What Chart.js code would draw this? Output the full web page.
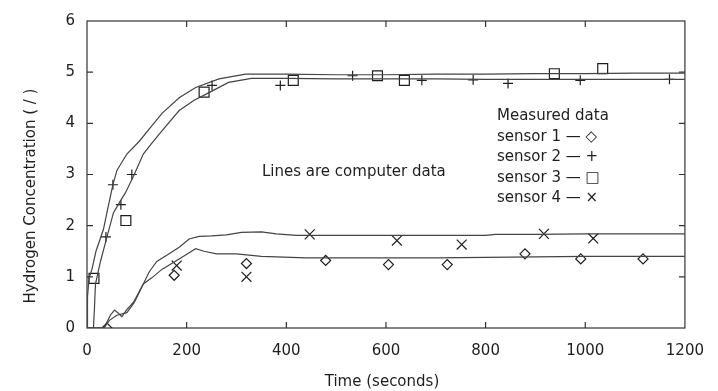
<!DOCTYPE html>
<html><head><meta charset="utf-8">
<script src="https://cdn.jsdelivr.net/npm/chart.js@4.4.1/dist/chart.umd.min.js"></script>
<style>html,body{margin:0;padding:0;background:#fff}#wrap{width:718px;height:391px}</style>
</head><body><div id="wrap"><canvas id="c" width="718" height="391"></canvas></div>
<script>
// ---- tick labels ----
const xTicks = [0, 200, 400, 600, 800, 1000, 1200];
const yTicks = [0, 1, 2, 3, 4, 5, 6];

// ---- computed lines (time s, concentration) ----
const lineA_t = [0, 1, 4, 10, 18, 33, 42, 52, 60, 80, 105, 130, 151, 185, 218, 265, 318, 400, 500, 600, 700, 800, 900, 1000, 1100, 1200];
const lineA_v = [0, 0.6, 0.97, 1.15, 1.5, 1.93, 2.35, 2.8, 3.08, 3.4, 3.65, 3.95, 4.2, 4.5, 4.7, 4.87, 4.96, 4.96, 4.95, 4.95, 4.96, 4.96, 4.97, 4.97, 4.98, 4.98];
const lineB_t = [0, 13, 15, 17, 27, 39, 53, 65, 77, 93, 113, 129, 150, 185, 215, 245, 284, 330, 400, 500, 600, 700, 800, 900, 1000, 1100, 1200];
const lineB_v = [0, 0, 0.4, 0.86, 1.3, 1.74, 2.25, 2.45, 2.64, 2.96, 3.4, 3.6, 3.85, 4.25, 4.45, 4.6, 4.8, 4.88, 4.88, 4.87, 4.87, 4.87, 4.86, 4.86, 4.86, 4.86, 4.86];
const lineC_t = [0, 34, 47, 55, 62, 70, 79, 93, 113, 125, 140, 160, 185, 205, 225, 250, 280, 310, 350, 380, 420, 500, 600, 700, 800, 820, 900, 1000, 1100, 1200];
const lineC_v = [0, 0, 0.25, 0.35, 0.3, 0.22, 0.35, 0.5, 0.86, 1.1, 1.3, 1.42, 1.58, 1.74, 1.79, 1.8, 1.82, 1.87, 1.88, 1.84, 1.81, 1.81, 1.81, 1.81, 1.81, 1.83, 1.83, 1.84, 1.84, 1.84];
const lineD_t = [0, 34, 45, 60, 80, 95, 113, 130, 151, 185, 205, 218, 235, 260, 300, 350, 440, 500, 600, 700, 800, 900, 1000, 1100, 1200];
const lineD_v = [0, 0, 0.15, 0.25, 0.3, 0.5, 0.86, 0.98, 1.15, 1.35, 1.47, 1.55, 1.5, 1.45, 1.45, 1.4, 1.37, 1.37, 1.37, 1.37, 1.38, 1.39, 1.4, 1.4, 1.4];

// ---- measured data ----
const s1_t = [40, 175, 320, 479, 605, 723, 879, 991, 1116];
const s1_v = [0, 1.03, 1.26, 1.32, 1.24, 1.24, 1.45, 1.35, 1.35];
const s2_t = [38, 52, 68, 90, 251, 388, 533, 672, 775, 845, 990, 1169];
const s2_v = [1.78, 2.8, 2.41, 3.0, 4.74, 4.74, 4.93, 4.84, 4.85, 4.78, 4.84, 4.86];
const s3_t = [14, 78, 235, 414, 583, 637, 938, 1035];
const s3_v = [0.97, 2.1, 4.61, 4.84, 4.93, 4.84, 4.97, 5.07];
const s4_t = [180, 320, 447, 622, 752, 917, 1016];
const s4_v = [1.22, 1.0, 1.83, 1.71, 1.63, 1.84, 1.75];

const legendLines = ['Measured data', 'sensor 1 \u2014 \u25C7', 'sensor 2 \u2014 +', 'sensor 3 \u2014 \u25A1', 'sensor 4 \u2014 \u00D7'];
const noteText = 'Lines are computer data';
const xTitle = 'Time (seconds)';
const yTitle = 'Hydrogen Concentration ( / )';

const pts = (t, v) => t.map((x, i) => ({x: x, y: v[i]}));
const INK = '#1e1e1e';
const LINE = '#444';
const FONT = '"DejaVu Sans", sans-serif';

function lineDs(t, v) {
  return {type: 'line', data: pts(t, v), borderColor: LINE, borderWidth: 1.2, pointRadius: 0, fill: false, tension: 0};
}
function markDs(t, v, style, r) {
  return {type: 'scatter', data: pts(t, v), pointStyle: style, pointRadius: r, pointHoverRadius: r,
          borderColor: INK, backgroundColor: 'rgba(0,0,0,0)', pointBorderWidth: 1.2, borderWidth: 1.2};
}

const framePlugin = {
  id: 'frame',
  beforeDatasetsDraw(chart) {
    const {ctx, chartArea: a, scales: {x, y}} = chart;
    ctx.save();
    ctx.strokeStyle = '#333';
    ctx.lineWidth = 1.2;
    ctx.strokeRect(a.left, a.top, a.right - a.left, a.bottom - a.top);
    ctx.beginPath();
    xTicks.forEach(v => {
      const p = x.getPixelForValue(v);
      if (v === xTicks[0] || v === xTicks[xTicks.length - 1]) return;
      ctx.moveTo(p, a.bottom); ctx.lineTo(p, a.bottom - 6);
      ctx.moveTo(p, a.top); ctx.lineTo(p, a.top + 6);
    });
    yTicks.forEach(v => {
      const p = y.getPixelForValue(v);
      if (v === yTicks[0] || v === yTicks[yTicks.length - 1]) return;
      ctx.moveTo(a.left, p); ctx.lineTo(a.left + 6, p);
      ctx.moveTo(a.right, p); ctx.lineTo(a.right - 6, p);
    });
    ctx.stroke();
    ctx.restore();
  },
  afterDraw(chart) {
    const {ctx} = chart;
    ctx.save();
    ctx.fillStyle = INK;
    ctx.font = '15px ' + FONT;
    ctx.textBaseline = 'middle';
    ctx.textAlign = 'left';
    const rows = [116, 137, 157, 178, 198];
    legendLines.forEach((s, i) => ctx.fillText(s, 497, rows[i]));
    ctx.fillText(noteText, 262, 172);
    ctx.textAlign = 'center';
    ctx.fillText(xTitle, 382, 382);
    ctx.translate(31, 196);
    ctx.rotate(-Math.PI / 2);
    ctx.fillText(yTitle, 0, 0);
    ctx.restore();
  }
};

new Chart(document.getElementById('c'), {
  data: {
    datasets: [
      lineDs(lineA_t, lineA_v), lineDs(lineB_t, lineB_v), lineDs(lineC_t, lineC_v), lineDs(lineD_t, lineD_v),
      markDs(s1_t, s1_v, 'rectRot', 5), markDs(s2_t, s2_v, 'cross', 5),
      markDs(s3_t, s3_v, 'rect', 7), markDs(s4_t, s4_v, 'crossRot', 7)
    ]
  },
  options: {
    responsive: false,
    animation: false,
    devicePixelRatio: 1,
    layout: {autoPadding: false, padding: {left: 0, right: 27, top: 14, bottom: 0}},
    plugins: {legend: {display: false}, tooltip: {enabled: false}},
    scales: {
      x: {
        type: 'linear', min: 0, max: 1200,
        afterFit: s => { s.height = 63; },
        afterBuildTicks: s => { s.ticks = xTicks.map(v => ({value: v})); },
        grid: {display: false, drawTicks: false},
        border: {display: false},
        ticks: {padding: 14, color: INK, font: {family: FONT, size: 15}, maxRotation: 0, autoSkip: false,
                callback: v => String(v)}
      },
      y: {
        type: 'linear', min: 0, max: 6,
        afterFit: s => { s.width = 87; },
        afterBuildTicks: s => { s.ticks = yTicks.map(v => ({value: v})); },
        grid: {display: false, drawTicks: false},
        border: {display: false},
        ticks: {padding: 12, color: INK, font: {family: FONT, size: 15}, autoSkip: false,
                callback: v => String(v)}
      }
    }
  },
  plugins: [framePlugin]
});
</script></body></html>
